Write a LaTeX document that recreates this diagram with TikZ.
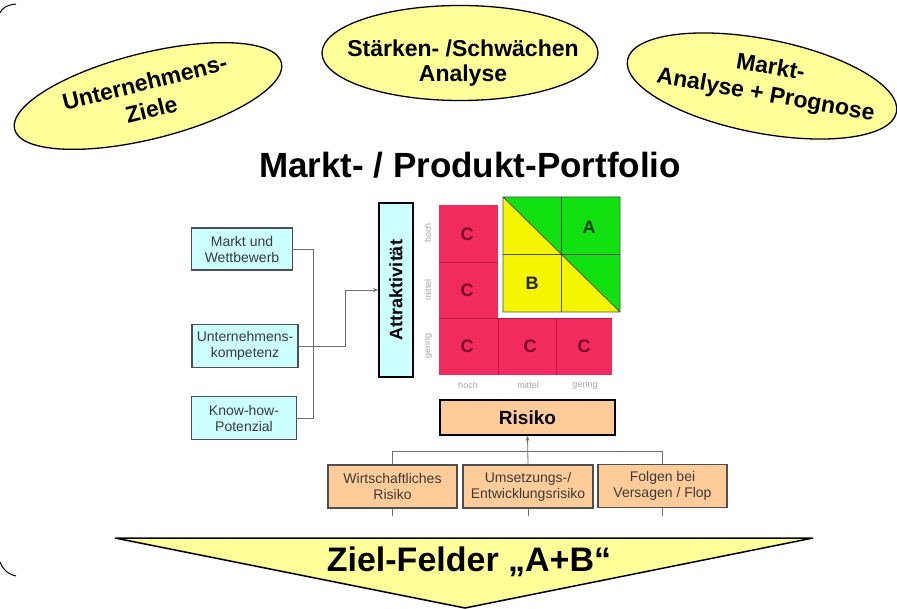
\documentclass[tikz,border=0pt]{standalone}
\usepackage{fontspec}
\setmainfont{Liberation Sans}
\usetikzlibrary{shapes.geometric,arrows.meta}

\definecolor{paleyellow}{HTML}{FFFF99}
\definecolor{palecyan}{HTML}{CCFFFF}
\definecolor{peach}{HTML}{FFCC99}
\definecolor{crimson}{HTML}{F22B5E}
\definecolor{crimsonline}{HTML}{B81845}
\definecolor{darkcrimson}{HTML}{7A0025}
\definecolor{fieldgreen}{HTML}{11E011}
\definecolor{fieldyellow}{HTML}{F5F500}
\definecolor{boxtext}{HTML}{3A3A3A}
\definecolor{linegray}{HTML}{707070}

\newcommand\fsz[2]{\fontsize{#1}{#2}\selectfont}

\begin{document}
\begin{tikzpicture}[x=1pt,y=-1pt,
  bubble/.style={ellipse, draw=black, line width=1.3pt, fill=paleyellow, inner sep=0pt},
  bubbletext/.style={align=center, inner sep=0pt, font=\fsz{23}{28}\bfseries},
  factor/.style={draw=linegray!70!black, line width=1.3pt, fill=palecyan,
    inner sep=1pt, align=center, font=\fsz{14}{16}, text=boxtext},
  riskbox/.style={draw=linegray!70!black, line width=1.3pt, fill=peach,
    inner sep=1pt, align=center, font=\fsz{14}{16}, text=boxtext},
  conn/.style={draw=linegray, line width=0.8pt},
  cellmark/.style={font=\fsz{18}{18}\bfseries},
  axislabel/.style={font=\fsz{9}{9}, text=gray!70, inner sep=0pt},
]
\useasboundingbox (0,0) rectangle (897,609);

% bracket ends on the left edge
\draw[line width=1pt] (16,4) .. controls (7,5) and (2,8) .. (0,13);
\draw[line width=1pt] (0,562) .. controls (2,568) and (7,574) .. (16,576);

% input bubbles
\node[bubble, minimum width=275pt, minimum height=86pt, rotate=14] (goals) at (148,96) {};
\node[bubbletext, rotate=14] (goalstext) at (148,96) {Unternehmens-\\Ziele};

\node[bubble, minimum width=276pt, minimum height=95pt] (swot) at (460,53) {};
\node[bubbletext, font=\fsz{23}{25}\bfseries] (swottext) at (463,63) {Stärken- /Schwächen\\Analyse};

\node[bubble, minimum width=274pt, minimum height=94pt, rotate=-11] (market) at (762,86) {};
\node[bubbletext, rotate=-10] (markettext) at (768,82) {Markt-\\Analyse + Prognose};

% title
\node[font=\fsz{35}{40}\bfseries] (title) at (470,165) {Markt- / Produkt-Portfolio};

% factors feeding attractiveness
\node[factor, minimum width=101pt, minimum height=42pt] (f1) at (242,249) {Markt und\\Wettbewerb};
\node[factor, minimum width=106pt, minimum height=43pt] (f2) at (245,346) {Unternehmens-\\kompetenz};
\node[factor, minimum width=105pt, minimum height=43pt] (f3) at (244,418) {Know-how-\\Potenzial};

\node[draw=black, line width=2pt, fill=palecyan, minimum width=34pt,
  minimum height=174pt, inner sep=0pt] (attr) at (396,290)
  {\rotatebox{90}{\fsz{18}{18}\bfseries Attraktivität}};

\coordinate (j1) at (313,249);
\coordinate (j3) at (313,418);
\coordinate (k2) at (345,346);
\draw[conn] (f1.east) -- (j1) -- (j3) -- (f3.east);
\draw[conn, -{Stealth[length=5pt,width=4pt]}] (f2.east) -- (k2) |- (attr.west);

% portfolio matrix: C fields
\fill[crimson] (439,205) rectangle (498,375);
\fill[crimson] (498,318) rectangle (612,375);
\draw[crimsonline, line width=0.6pt]
  (439,262) -- (498,262)
  (439,318) -- (612,318)
  (498,318) -- (498,375)
  (556,318) -- (556,375);

% A and B fields
\fill[fieldyellow] (503,197) rectangle (620,312);
\fill[fieldgreen] (503,197) -- (620,197) -- (620,312) -- cycle;
\draw[black!70, line width=0.7pt]
  (503,197) rectangle (620,312)
  (561.5,197) -- (561.5,312)
  (503,254.5) -- (620,254.5)
  (503,197) -- (620,312);

\node[cellmark, text=darkcrimson] (c1) at (467,234) {C};
\node[cellmark, text=darkcrimson] (c2) at (467,290) {C};
\node[cellmark, text=darkcrimson] (c3) at (467,346) {C};
\node[cellmark, text=darkcrimson] (c4) at (530,346) {C};
\node[cellmark, text=darkcrimson] (c5) at (584,346) {C};
\node[cellmark, text=black!75!green] (fa) at (589,227) {A};
\node[cellmark, text=black!85] (fb) at (532,283) {B};

% axis scales
\node[axislabel, rotate=90] (v1) at (428,233) {hoch};
\node[axislabel, rotate=90] (v2) at (428,290) {mittel};
\node[axislabel, rotate=90] (v3) at (428,346) {gering};
\node[axislabel] (h1) at (468,385) {hoch};
\node[axislabel] (h2) at (528,385) {mittel};
\node[axislabel] (h3) at (585,385) {gering};

% risk
\node[draw=black, line width=2pt, fill=peach, minimum width=175pt,
  minimum height=35pt, inner sep=0pt, font=\fsz{19}{19}\bfseries]
  (risk) at (527.5,417.5) {Risiko};

\node[riskbox, minimum width=129pt, minimum height=43pt] (r1) at (392.5,486.5) {Wirtschaftliches\\Risiko};
\node[riskbox, minimum width=130pt, minimum height=43pt] (r2) at (528,486.5) {Umsetzungs-/\\Entwicklungsrisiko};
\node[riskbox, minimum width=129pt, minimum height=43pt] (r3) at (662.5,486) {Folgen bei\\Versagen / Flop};

\coordinate (q1) at (392.5,451);
\coordinate (q3) at (662.5,451);
\draw[conn] (r1.north) -- (q1) -- (q3) -- (r3.north);
\draw[conn, -{Stealth[length=5pt,width=4pt]}] (r2.north) -- (risk.south);

\coordinate (s1) at (392.5,516);
\coordinate (s2) at (528,516);
\coordinate (s3) at (662.5,516);
\draw[conn] (r1.south) -- (s1);
\draw[conn] (r2.south) -- (s2);
\draw[conn] (r3.south) -- (s3);

% result arrow
\draw[fill=paleyellow, line width=1.5pt, line join=miter]
  (115,538) -- (813,538) -- (465,608) -- cycle;
\node[font=\fsz{34}{34}\bfseries] (target) at (469,562) {Ziel-Felder „A+B“};

\end{tikzpicture}
\end{document}
